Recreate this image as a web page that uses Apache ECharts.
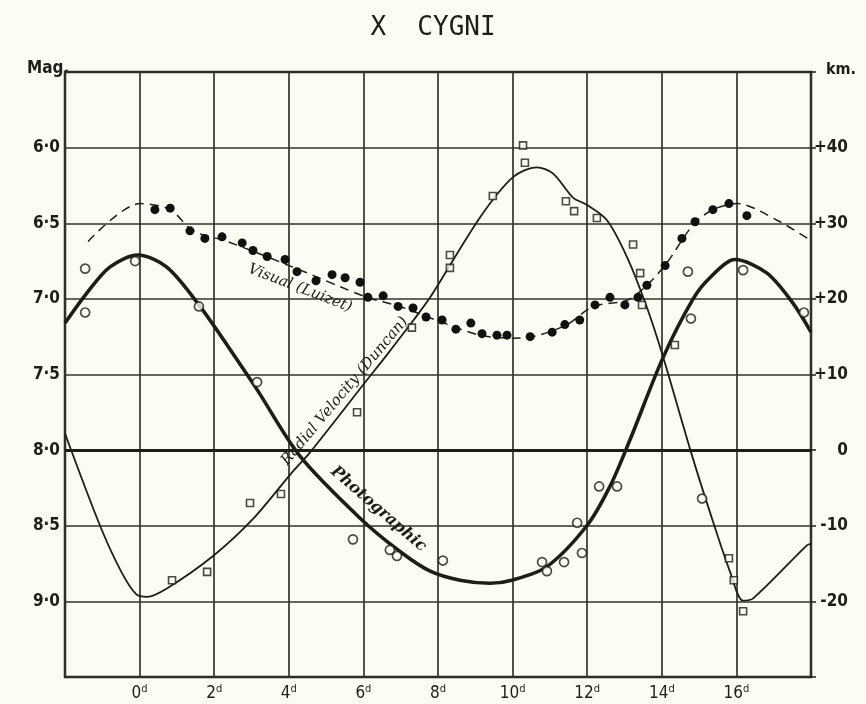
<!DOCTYPE html>
<html>
<head>
<meta charset="utf-8">
<script src="https://cdn.jsdelivr.net/npm/echarts@6/dist/echarts.min.js"></script>
<style>
html,body{margin:0;padding:0;background:#fcfcf5;}
#c{width:866px;height:704px;}
</style>
</head>
<body>
<div id="c"></div>
<script>
// ---- data (day, magnitude / km per sec) ----
const titleText = 'X  CYGNI';
const xTicks = [0, 2, 4, 6, 8, 10, 12, 14, 16];
const magTicks = [6.0, 6.5, 7.0, 7.5, 8.0, 8.5, 9.0];
const kmTicks = [40, 30, 20, 10, 0, -10, -20];

// Photographic light curve (mag)
const photoCurve = [[-2,7.16],[-1.41,6.96],[-0.8,6.79],[-0.05,6.71],[0.73,6.79],[1.62,7.05],[2.69,7.43],[3.15,7.60],[4.3,8.04],[5.91,8.45],[6.98,8.67],[7.79,8.80],[8.59,8.86],[9.39,8.88],[9.98,8.86],[10.92,8.77],[11.99,8.50],[12.61,8.24],[13.15,7.93],[14.03,7.39],[14.84,7.0],[15.29,6.86],[15.96,6.74],[16.82,6.83],[17.52,7.03],[18,7.22]];
const photoObs = [[-1.46,6.80],[-1.46,7.09],[-0.12,6.75],[1.59,7.05],[3.15,7.55],[5.72,8.59],[6.71,8.66],[6.90,8.70],[8.13,8.73],[10.79,8.74],[10.92,8.80],[11.38,8.74],[11.86,8.68],[11.73,8.48],[12.32,8.24],[12.80,8.24],[14.70,6.82],[14.78,7.13],[15.08,8.32],[16.18,6.81],[17.81,7.09]];

// Visual (Luizet) curve (mag)
const visCurve = [[-1.38,6.62],[0.01,6.37],[0.82,6.41],[1.43,6.55],[2.34,6.62],[4.11,6.79],[6.1,6.99],[6.98,7.05],[8.05,7.15],[9.13,7.24],[10.01,7.26],[10.55,7.25],[11.46,7.17],[12.16,7.05],[13.07,7.01],[13.6,6.91],[14.14,6.76],[14.84,6.51],[15.37,6.41],[16.02,6.37],[17.09,6.48],[17.97,6.61]];
const visObs = [[0.41,6.41],[0.82,6.40],[1.35,6.55],[1.75,6.60],[2.21,6.59],[2.75,6.63],[3.04,6.68],[3.42,6.72],[3.90,6.74],[4.22,6.82],[4.73,6.88],[5.16,6.84],[5.51,6.86],[5.91,6.89],[6.12,6.99],[6.53,6.98],[6.93,7.05],[7.33,7.06],[7.68,7.12],[8.11,7.14],[8.48,7.20],[8.88,7.16],[9.18,7.23],[9.58,7.24],[9.85,7.24],[10.47,7.25],[11.06,7.22],[11.40,7.17],[11.80,7.14],[12.21,7.04],[12.61,6.99],[13.01,7.04],[13.36,6.99],[13.60,6.91],[14.09,6.78],[14.54,6.60],[14.89,6.49],[15.37,6.41],[15.80,6.37],[16.28,6.45]];

// Radial velocity (Duncan) curve (km)
const velCurve = [[-2,2.2],[-1.06,-10],[-0.5,-16],[-0.1,-19],[0.2,-19.4],[0.73,-18.3],[1.97,-14],[3.04,-9.1],[4.11,-2.8],[4.57,-0.3],[6.10,9.3],[6.63,12.6],[7.33,17.1],[7.79,20.2],[9.13,30.8],[10.01,36.1],[10.65,37.4],[11.08,36.6],[11.62,33.4],[12.0,32.4],[12.53,30.4],[13.07,25.5],[13.6,18.9],[14.03,12.4],[14.76,0.1],[15.29,-8.2],[15.83,-16.1],[16.18,-19.9],[16.45,-19.6],[17.89,-12.6],[18,-12.4]];
const velObs = [[0.87,-17.2],[1.81,-16.1],[2.96,-7.0],[3.79,-5.8],[5.83,5.0],[7.30,16.2],[8.32,25.8],[8.32,24.1],[9.47,33.6],[10.28,40.3],[10.33,38.0],[11.43,32.9],[11.65,31.6],[12.26,30.7],[13.23,27.2],[13.42,23.4],[13.47,19.2],[14.35,13.9],[15.80,-14.3],[15.93,-17.2],[16.18,-21.3]];

const curveLabels = {visual: 'Visual (Luizet)', velocity: 'Radial Velocity (Duncan)', photo: 'Photographic'};

const ink = '#1e1e18';
const paper = '#fcfcf5';
const labelFont = "'DejaVu Sans Condensed','DejaVu Sans',sans-serif";
const handFont = "'DejaVu Serif','Liberation Serif',serif";

const chart = echarts.init(document.getElementById('c'));
chart.setOption({
  backgroundColor: paper,
  animation: false,
  title: {text: titleText, left: 'center', top: 10,
    textStyle: {fontFamily: "'DejaVu Sans Mono',monospace", fontWeight: 'normal', fontSize: 26, color: ink}},
  grid: {left: 65, right: 55, top: 72, bottom: 27, show: true, borderColor: ink, borderWidth: 2.5, backgroundColor: 'transparent'},
  xAxis: {type: 'value', min: -2, max: 18, interval: 2,
    axisLine: {show: false}, axisTick: {show: false},
    splitLine: {show: true, lineStyle: {color: '#34342b', width: 1.7}},
    axisLabel: {margin: 7, color: ink,
      formatter: v => xTicks.indexOf(v) >= 0 ? '{n|' + v + '}{s|d}' : '',
      rich: {n: {fontSize: 17, fontFamily: labelFont, color: ink}, s: {fontSize: 11, fontFamily: labelFont, color: ink, padding: [0, 0, 9, 0]}}}},
  yAxis: [
    {type: 'value', inverse: true, min: 5.5, max: 9.5, interval: 0.5,
      axisLine: {show: false}, axisTick: {show: false},
      splitLine: {show: true, lineStyle: {color: '#34342b', width: 1.7}},
      axisLabel: {margin: 5, fontSize: 17, fontWeight: 'bold', fontFamily: labelFont, color: ink,
        formatter: v => magTicks.some(t => Math.abs(t - v) < 1e-6) ? v.toFixed(1).replace('.', '·') : ''}},
    {type: 'value', min: -30, max: 50, interval: 10, position: 'right',
      axisLine: {show: false}, splitLine: {show: false},
      axisTick: {show: true, length: 5, lineStyle: {color: ink, width: 1.5}},
      axisLabel: {margin: 37, align: 'right', fontSize: 17, fontWeight: 'bold', fontFamily: labelFont, color: ink,
        formatter: v => kmTicks.indexOf(v) >= 0 ? (v > 0 ? '+' + v : (v < 0 ? '-' + Math.abs(v) : '0')) : ''}}
  ],
  graphic: [
    {type: 'text', left: 27, top: 60, style: {text: 'Mag.', font: "bold 17px " + labelFont, fill: ink}},
    {type: 'text', left: 826, top: 62, style: {text: 'km.', font: "bold 16px " + labelFont, fill: ink}}
  ],
  series: [
    {type: 'line', name: 'velocity', yAxisIndex: 1, data: velCurve, smooth: 0.3, showSymbol: false,
      lineStyle: {color: ink, width: 1.8}, z: 3,
      markLine: {silent: true, symbol: 'none', label: {show: false}, lineStyle: {color: ink, width: 3, type: 'solid'}, data: [{yAxis: 0}]},
      markPoint: {symbol: 'circle', symbolSize: 0, data: [{coord: [5.5, 7.8], value: 0}],
        label: {show: true, formatter: curveLabels.velocity, rotate: 50, fontSize: 15, fontStyle: 'italic', fontFamily: handFont, color: ink, position: 'inside'}}},
    {type: 'line', name: 'visual', data: visCurve, smooth: 0.3, showSymbol: false,
      lineStyle: {color: ink, width: 1.5, type: [9, 6]}, z: 3,
      markPoint: {symbol: 'circle', symbolSize: 0, data: [{coord: [4.3, 6.93], value: 0}],
        label: {show: true, formatter: curveLabels.visual, rotate: -21, fontSize: 15, fontStyle: 'italic', fontFamily: handFont, color: ink, position: 'inside'}}},
    {type: 'line', name: 'photo', data: photoCurve, smooth: 0.3, showSymbol: false,
      lineStyle: {color: ink, width: 3.6}, z: 4,
      markPoint: {symbol: 'circle', symbolSize: 0, data: [{coord: [6.4, 8.39], value: 0}],
        label: {show: true, formatter: curveLabels.photo, rotate: -41, fontSize: 16, fontStyle: 'italic', fontWeight: 'bold', fontFamily: handFont, color: ink, position: 'inside'}}},
    {type: 'scatter', data: photoObs, symbol: 'circle', symbolSize: 9,
      itemStyle: {color: paper, borderColor: ink, borderWidth: 1.7}, z: 5},
    {type: 'scatter', data: visObs, symbol: 'circle', symbolSize: 9,
      itemStyle: {color: '#111', borderWidth: 0, opacity: 1}, z: 5},
    {type: 'scatter', yAxisIndex: 1, data: velObs, symbol: 'rect', symbolSize: 7,
      itemStyle: {color: paper, borderColor: ink, borderWidth: 1.6}, z: 5}
  ]
});
</script>
</body>
</html>
